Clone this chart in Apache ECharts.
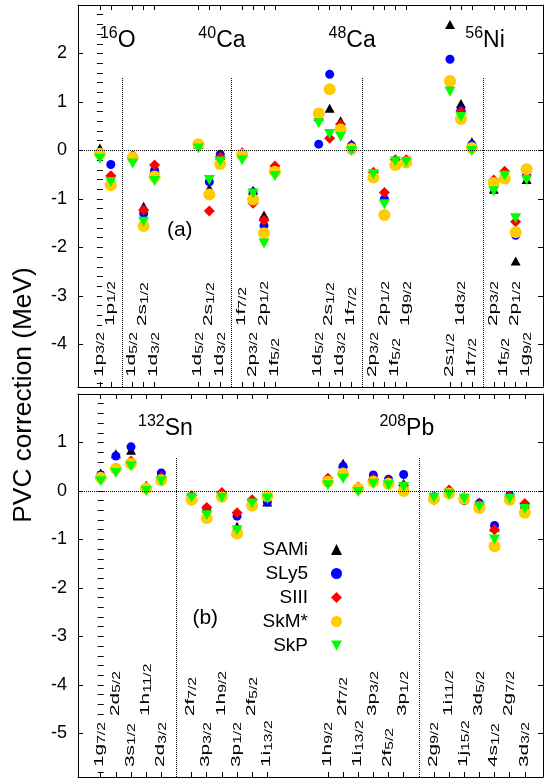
<!DOCTYPE html>
<html>
<head>
<meta charset="utf-8" />
<title>PVC correction</title>
<script src="https://cdn.jsdelivr.net/npm/echarts@6/dist/echarts.min.js"></script>
<style>
    html, body { margin: 0; padding: 0; background: #fff; }
    #main { width: 549px; height: 779px; }
</style>
</head>
<body>
<div id="main"></div>
<script type="text/javascript">

var FONT = '"Liberation Sans", Arial, sans-serif';

var models = ['SAMi', 'SLy5', 'SIII', 'SkM*', 'SkP'];
var colors = ['#000000', '#0000ff', '#ff0000', '#ffcc00', '#00ff00'];
var symbols = ['triangle', 'circle', 'diamond', 'circle', 'triangle'];
var symbolSizes = [[10, 9], 9, 11, 12, [11, 10]];
var symbolRotates = [0, 0, 0, 0, 180];
var legendIcons = ['triangle', 'circle', 'diamond', 'circle', 'path://M0,0L10,0L5,9Z'];

// panel (a): 16O, 40Ca, 48Ca, 56Ni
var posA = [0, 1, 3, 4, 5, 9, 10, 11, 13, 14, 15, 16, 20, 21, 22, 23, 25, 26, 27, 28, 32, 33, 34, 36, 37, 38, 39];
var levelsA = ['1p3/2', '1p1/2', '1d5/2', '2s1/2', '1d3/2', '1d5/2', '2s1/2', '1d3/2', '1f7/2', '2p3/2', '2p1/2', '1f5/2',
               '1d5/2', '2s1/2', '1d3/2', '1f7/2', '2p3/2', '2p1/2', '1f5/2', '1g9/2', '2s1/2', '1d3/2', '1f7/2',
               '2p3/2', '1f5/2', '2p1/2', '1g9/2'];
var highA = [0, 1, 0, 1, 0, 0, 1, 0, 1, 0, 1, 0, 0, 1, 0, 1, 0, 1, 0, 1, 0, 1, 0, 1, 0, 1, 0];
var samiA = [0.05, -0.6, -0.08, -1.15, -0.37, 0.12, -0.78, -0.1, -0.04, -0.82, -1.33, -0.32,
             0.7, 0.87, 0.61, 0.14, -0.45, -0.95, -0.2, -0.2, 2.6, 0.97, 0.18, -0.8, -0.5, -2.28, -0.6];
var sly5A = [-0.05, -0.29, -0.12, -1.3, -0.41, 0.1, -0.65, -0.08, -0.08, -0.86, -1.55, -0.38,
             0.13, 1.57, 0.5, 0.1, -0.5, -1.0, -0.25, -0.22, 1.88, 0.83, 0.12, -0.65, -0.55, -1.75, -0.5];
var siiiA = [-0.06, -0.52, -0.11, -1.23, -0.3, 0.12, -1.25, -0.14, -0.05, -1.09, -1.44, -0.32,
             0.72, 0.25, 0.54, 0.07, -0.45, -0.87, -0.19, -0.19, 1.38, 0.8, 0.08, -0.61, -0.43, -1.47, -0.44];
var skmA = [-0.07, -0.72, -0.15, -1.56, -0.54, 0.13, -0.91, -0.28, -0.09, -1.01, -1.71, -0.44,
            0.76, 1.26, 0.43, 0.03, -0.56, -1.33, -0.3, -0.25, 1.43, 0.65, 0.05, -0.67, -0.58, -1.69, -0.39];
var skpA = [-0.17, -0.65, -0.27, -1.47, -0.63, 0.04, -0.61, -0.23, -0.2, -0.89, -1.92, -0.53,
            0.56, 0.34, 0.28, -0.01, -0.49, -1.11, -0.23, -0.24, 1.21, 0.69, -0.01, -0.84, -0.52, -1.4, -0.61];
var sepA = [2, 12, 24, 35];
var yTicksA = [-4, -3, -2, -1, 0, 1, 2];
var nucMassA = ['16', '40', '48', '56'];
var nucElemA = ['O', 'Ca', 'Ca', 'Ni'];
var nucXA = [0, 9, 20.9, 33.4];

// panel (b): 132Sn, 208Pb
var posB = [0, 1, 2, 3, 4, 6, 7, 8, 9, 10, 11, 15, 16, 17, 18, 19, 20, 22, 23, 24, 25, 26, 27, 28];
var levelsB = ['1g7/2', '2d5/2', '3s1/2', '1h11/2', '2d3/2', '2f7/2', '3p3/2', '1h9/2', '3p1/2', '2f5/2', '1i13/2',
               '1h9/2', '2f7/2', '1i13/2', '3p3/2', '2f5/2', '3p1/2', '2g9/2', '1i11/2', '1j15/2', '3d5/2', '4s1/2',
               '2g7/2', '3d3/2'];
var highB = [0, 1, 0, 1, 0, 1, 0, 1, 0, 1, 0, 0, 1, 0, 1, 0, 1, 0, 1, 0, 1, 0, 1, 0];
var samiB = [0.37, 0.77, 0.84, 0.12, 0.35, -0.1, -0.35, -0.04, -0.73, -0.2, -0.23,
             0.25, 0.57, 0.08, 0.28, 0.2, 0.16, -0.14, 0.03, -0.15, -0.23, -0.75, -0.12, -0.28];
var sly5B = [0.33, 0.72, 0.91, 0.06, 0.37, -0.14, -0.36, -0.1, -0.52, -0.24, -0.23,
             0.22, 0.51, 0.05, 0.33, 0.24, 0.34, -0.12, -0.03, -0.2, -0.25, -0.71, -0.09, -0.3];
var siiiB = [0.29, 0.43, 0.62, 0.08, 0.29, -0.1, -0.34, -0.03, -0.45, -0.18, -0.12,
             0.26, 0.32, 0.08, 0.25, 0.2, 0.12, -0.18, 0.02, -0.13, -0.28, -0.8, -0.12, -0.26];
var skmB = [0.27, 0.46, 0.56, 0.05, 0.22, -0.18, -0.56, -0.12, -0.88, -0.3, -0.11,
            0.19, 0.36, 0.05, 0.19, 0.15, 0.0, -0.16, -0.05, -0.16, -0.35, -1.14, -0.18, -0.45];
var skpB = [0.2, 0.37, 0.51, 0.0, 0.2, -0.14, -0.5, -0.14, -0.81, -0.26, -0.16,
            0.12, 0.25, -0.02, 0.15, 0.12, 0.08, -0.14, -0.07, -0.16, -0.32, -1.0, -0.16, -0.37];
var sepB = [5, 21];
var yTicksB = [-5, -4, -3, -2, -1, 0, 1];
var nucMassB = ['132', '208'];
var nucElemB = ['Sn', 'Pb'];
var nucXB = [2.46, 18.4];

var panels = [
    { pos: posA, levels: levelsA, high: highA, vals: [samiA, sly5A, siiiA, skmA, skpA], sep: sepA, sepTop: 1.5,
      xMin: -2, xMax: 40.5, yMin: -4.88, yMax: 3, yTicks: yTicksA,
      mass: nucMassA, elem: nucElemA, nucX: nucXA, nucY: 1.96, tag: '(a)', tagX: 7.3, tagY: -1.64,
      grid: { left: 78, top: 5, width: 465, height: 382 } },
    { pos: posB, levels: levelsB, high: highB, vals: [samiB, sly5B, siiiB, skmB, skpB], sep: sepB, sepTop: 0.7,
      xMin: -1.5, xMax: 29.2, yMin: -5.9, yMax: 2, yTicks: yTicksB,
      mass: nucMassB, elem: nucElemB, nucX: nucXB, nucY: 0.98, tag: '(b)', tagX: 6.9, tagY: -2.62,
      grid: { left: 78, top: 394, width: 465, height: 383 } }
];

var black = { color: '#000', width: 1 };
var grids = [], xAxes = [], yAxes = [], series = [];

panels.forEach(function (pn, k) {
    grids.push(pn.grid);

    ['bottom', 'top'].forEach(function (side) {
        xAxes.push({
            gridIndex: k, type: 'value', position: side, min: pn.xMin, max: pn.xMax,
            axisLine: { show: true, onZero: false, lineStyle: black },
            axisTick: { show: true, inside: true, length: 5, lineStyle: black, customValues: pn.pos },
            axisLabel: { show: false },
            splitLine: { show: false }
        });
    });

    var majors = [];
    for (var v = Math.ceil(pn.yMin); v <= Math.floor(pn.yMax); v++) majors.push(v);
    var minors = [];
    for (var w = Math.ceil(pn.yMin * 5); w <= Math.floor(pn.yMax * 5); w++) minors.push(w / 5);

    ['left', 'right'].forEach(function (side) {
        yAxes.push({
            gridIndex: k, type: 'value', position: side, min: pn.yMin, max: pn.yMax,
            axisLine: { show: true, onZero: false, lineStyle: black },
            axisTick: { show: true, inside: true, length: 5, lineStyle: black, customValues: majors },
            axisLabel: side === 'left' ? {
                show: true, customValues: pn.yTicks, margin: 11,
                color: '#000', fontSize: 18, fontFamily: FONT
            } : { show: false },
            splitLine: { show: false }
        });
        yAxes.push({
            gridIndex: k, type: 'value', position: side, min: pn.yMin, max: pn.yMax,
            axisLine: { show: false },
            axisTick: { show: true, inside: true, length: 3, lineStyle: black, customValues: minors },
            axisLabel: { show: false },
            splitLine: { show: false }
        });
    });

    var xi = 2 * k, yi = 4 * k;

    pn.vals.forEach(function (vals, m) {
        var s = {
            name: models[m], type: 'scatter', xAxisIndex: xi, yAxisIndex: yi,
            symbol: symbols[m], symbolSize: symbolSizes[m], symbolRotate: symbolRotates[m],
            itemStyle: { color: colors[m], opacity: 1 },
            silent: true,
            data: pn.pos.map(function (x, i) { return [x, vals[i]]; })
        };
        if (m === 0) {
            var lines = [{ yAxis: 0 }];
            pn.sep.forEach(function (x) {
                lines.push([{ coord: [x, pn.yMin] }, { coord: [x, pn.sepTop] }]);
            });
            s.markLine = {
                silent: true, symbol: ['none', 'none'], label: { show: false },
                lineStyle: { type: 'dotted', color: '#000', width: 1 },
                emphasis: { disabled: true },
                data: lines
            };
        }
        series.push(s);
    });

    // level labels along the bottom, stretched along the reading direction
    series.push({
        type: 'custom', xAxisIndex: xi, yAxisIndex: yi, silent: true, clip: false, z: 10,
        data: pn.pos.map(function (x) { return [x, pn.yMin]; }),
        renderItem: function (params, api) {
            var i = params.dataIndex;
            var p = api.coord([api.value(0), api.value(1)]);
            var name = pn.levels[i];
            return {
                type: 'group', x: p[0] - 1, y: p[1] - (pn.high[i] ? 61 : 10),
                rotation: Math.PI / 2,
                children: [{
                    type: 'text', x: 0, y: 0, scaleX: 1.3, scaleY: 0.85, originX: 0, originY: 0,
                    style: {
                        text: '{m|' + name.slice(0, 2) + '}{s|' + name.slice(2) + '}',
                        rich: {
                            m: { fontSize: 16, lineHeight: 18, fontFamily: FONT },
                            s: { fontSize: 12, lineHeight: 12, verticalAlign: 'bottom', fontFamily: FONT }
                        },
                        fill: '#000', fontFamily: FONT, fontSize: 16,
                        backgroundColor: '#fff',
                        align: 'left', verticalAlign: 'middle'
                    }
                }]
            };
        }
    });

    // nucleus names
    series.push({
        type: 'custom', xAxisIndex: xi, yAxisIndex: yi, silent: true, clip: false,
        data: pn.nucX.map(function (x) { return [x, pn.nucY]; }),
        renderItem: function (params, api) {
            var i = params.dataIndex;
            var p = api.coord([api.value(0), api.value(1)]);
            return {
                type: 'text', x: p[0], y: p[1],
                style: {
                    text: '{sup|' + pn.mass[i] + '}{el|' + pn.elem[i] + '}',
                    rich: {
                        sup: { fontSize: 16, lineHeight: 16, verticalAlign: 'top', fontFamily: FONT },
                        el: { fontSize: 23, lineHeight: 30, fontFamily: FONT }
                    },
                    fill: '#000', fontFamily: FONT, fontSize: 23,
                    align: 'left', verticalAlign: 'bottom'
                }
            };
        }
    });

    // panel tag
    series.push({
        type: 'custom', xAxisIndex: xi, yAxisIndex: yi, silent: true, clip: false,
        data: [[pn.tagX, pn.tagY]],
        renderItem: function (params, api) {
            var p = api.coord([api.value(0), api.value(1)]);
            return {
                type: 'text', x: p[0], y: p[1],
                style: {
                    text: pn.tag, fill: '#000', fontFamily: FONT, fontSize: 21,
                    align: 'center', verticalAlign: 'middle'
                }
            };
        }
    });
});

var myChart = echarts.init(document.getElementById('main'));
var option = {
    animation: false,
    backgroundColor: '#fff',
    grid: grids,
    xAxis: xAxes,
    yAxis: yAxes,
    legend: {
        data: models.map(function (n, i) { return { name: n, icon: legendIcons[i] }; }),
        orient: 'vertical', align: 'right',
        right: 207, top: 540, padding: 0,
        itemWidth: 11, itemHeight: 11, itemGap: 5,
        selectedMode: false,
        formatter: function (name) { return name + '{g| }'; },
        textStyle: {
            fontSize: 19, fontFamily: FONT, color: '#000',
            rich: { g: { width: 18, fontSize: 19, fontFamily: FONT } }
        }
    },
    graphic: [{
        type: 'text', x: 24, y: 395, rotation: Math.PI / 2, scaleX: 1.05,
        style: {
            text: 'PVC correction (MeV)', fill: '#000', fontFamily: FONT, fontSize: 25,
            align: 'center', verticalAlign: 'middle'
        }
    }],
    series: series
};
myChart.setOption(option);

</script>
</body>
</html>
